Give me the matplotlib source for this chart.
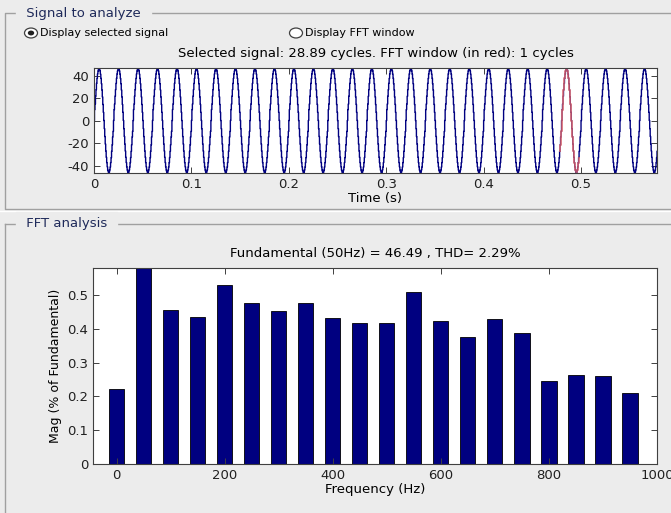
import numpy as np
import matplotlib.pyplot as plt
from matplotlib.patches import Circle

# Datos
freq_hz = [0, 50, 100, 150, 200, 250, 300, 350, 400, 450,
           500, 550, 600, 650, 700, 750, 800, 850, 900, 950]
mag_pct = [0.222, 100.0, 0.456, 0.434, 0.529, 0.475, 0.454, 0.475, 0.431, 0.416,
           0.416, 0.509, 0.422, 0.375, 0.428, 0.389, 0.246, 0.262, 0.260, 0.210]
fundamental = 46.49
f0 = 50
n_cycles = 28.89
thd = 2.29
win_start = 0.4778
win_cycles = 1

W, H = 671, 513
bg = "#ececec"
frame_col = "#a0a0a0"
title_col = "#1f2a5a"
navy = "#000080"

plt.rcParams["axes.unicode_minus"] = False


def fx(px):
    return px / W


def fy(py):
    return 1 - py / H


# Senal reconstruida con las armonicas del espectro
Ts = 5e-4
t = np.arange(0, n_cycles / f0 + Ts, Ts)
sig = np.zeros_like(t)
for f, m in zip(freq_hz, mag_pct):
    amp = fundamental * m / 100.0
    if f == 0:
        sig += amp
    else:
        sig += amp * np.sin(2 * np.pi * f * t)

fig = plt.figure(figsize=(W / 100, H / 100), dpi=100, facecolor=bg)

# Marcos de los paneles
fig.add_artist(plt.Line2D([fx(675), fx(5), fx(5), fx(675)],
                          [fy(13), fy(13), fy(209), fy(209)],
                          color=frame_col, lw=1))
fig.add_artist(plt.Line2D([fx(0), fx(675)], [fy(211), fy(211)], color="white", lw=1))
fig.add_artist(plt.Line2D([fx(5), fx(5)], [fy(515), fy(224)], color=frame_col, lw=1))
fig.add_artist(plt.Line2D([fx(5), fx(675)], [fy(224), fy(224)], color=frame_col, lw=1))
fig.text(fx(22), fy(13), " Signal to analyze ", color=title_col, fontsize=9.5,
         va="center", ha="left", backgroundcolor=bg)
fig.text(fx(22), fy(224), " FFT analysis ", color=title_col, fontsize=9.5,
         va="center", ha="left", backgroundcolor=bg)

# Botones de radio
for cx, filled in [(31, True), (296, False)]:
    fig.add_artist(Circle((fx(cx), fy(33)), 6.5 / W, transform=fig.transFigure,
                          facecolor="white", edgecolor="#404040", lw=0.9))
    if filled:
        fig.add_artist(Circle((fx(cx), fy(33)), 3.2 / W, transform=fig.transFigure,
                              facecolor="#202020", edgecolor="none"))
fig.text(fx(40), fy(33), "Display selected signal", fontsize=8, va="center")
fig.text(fx(305), fy(33), "Display FFT window", fontsize=8, va="center")

# Senal en el tiempo
ax1 = fig.add_axes([fx(94), fy(173), fx(657) - fx(94), fy(68) - fy(173)])
ax1.plot(t, sig, color=navy, lw=1.0, drawstyle="steps-post")
mask = (t >= win_start) & (t <= win_start + win_cycles / f0)
ax1.plot(t[mask], sig[mask], color="#e86a6a", lw=1.4, alpha=0.75, drawstyle="steps-post")
ax1.set_xlim(0, t[-1])
ax1.set_ylim(sig.min() - 0.5, sig.max() + 0.5)
ax1.set_yticks([-40, -20, 0, 20, 40])
ax1.set_xticks([0, 0.1, 0.2, 0.3, 0.4, 0.5])
ax1.set_xticklabels(["0", "0.1", "0.2", "0.3", "0.4", "0.5"])
ax1.set_title(f"Selected signal: {n_cycles:.2f} cycles. FFT window (in red): {win_cycles} cycles",
              fontsize=9.5, pad=8)
ax1.set_xlabel("Time (s)", fontsize=9.5, labelpad=1)

# Espectro
ax2 = fig.add_axes([fx(93), fy(464), fx(657) - fx(93), fy(268) - fy(464)])
ax2.bar(freq_hz, mag_pct, width=28, color=navy, edgecolor="black", lw=0.6)
ax2.set_xlim(-44, 1000)
ax2.set_ylim(0, 0.58)
ax2.set_xticks([0, 200, 400, 600, 800, 1000])
ax2.set_yticks([0, 0.1, 0.2, 0.3, 0.4, 0.5])
ax2.set_yticklabels(["0", "0.1", "0.2", "0.3", "0.4", "0.5"])
ax2.set_title(f"Fundamental ({f0}Hz) = {fundamental:.2f} , THD= {thd:.2f}%",
              fontsize=9.5, pad=8)
ax2.set_xlabel("Frequency (Hz)", fontsize=9.5, labelpad=1)
ax2.set_ylabel("Mag (% of Fundamental)", fontsize=9, labelpad=4)

for ax in (ax1, ax2):
    ax.set_facecolor("white")
    ax.tick_params(direction="in", top=True, right=True, labelsize=9.5,
                   length=4, width=0.7, colors="#404040", labelcolor="#202020")
    for s in ax.spines.values():
        s.set_color("#404040")
        s.set_linewidth(0.8)

fig.savefig("out.png", dpi=100, facecolor=bg)
